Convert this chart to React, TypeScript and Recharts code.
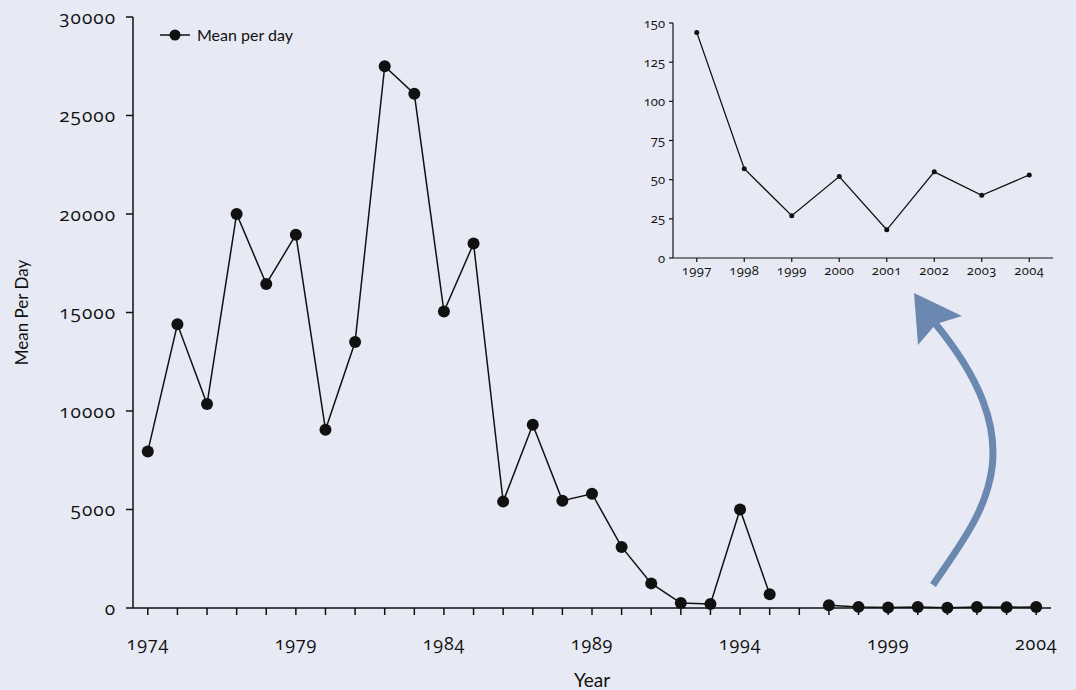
import React from "react";
import { LineChart, Line, XAxis, YAxis, Legend } from "recharts";

// main series, 1974–2004 (1996 has no value)
const years = [
  1974, 1975, 1976, 1977, 1978, 1979, 1980, 1981, 1982, 1983, 1984, 1985, 1986, 1987, 1988, 1989,
  1990, 1991, 1992, 1993, 1994, 1995, 1996, 1997, 1998, 1999, 2000, 2001, 2002, 2003, 2004,
];
const meanPerDay: (number | null)[] = [
  7950, 14400, 10350, 20000, 16450, 18950, 9050, 13500, 27500, 26100, 15050, 18500, 5400, 9300, 5450,
  5800, 3100, 1250, 250, 200, 5000, 700, null, 144, 57, 27, 52, 18, 55, 40, 53,
];
const yTicks = [0, 5000, 10000, 15000, 20000, 25000, 30000];
const xLabelYears = [1974, 1979, 1984, 1989, 1994, 1999, 2004];

// inset, 1997–2004
const insetYears = [1997, 1998, 1999, 2000, 2001, 2002, 2003, 2004];
const insetValues = [144, 57, 27, 52, 18, 55, 40, 53];
const insetYTicks = [0, 25, 50, 75, 100, 125, 150];

const mainData = years.map((year, i) => ({ year, value: meanPerDay[i] }));
const insetData = insetYears.map((year, i) => ({ year, value: insetValues[i] }));

const BG = "#E7EAF4";
const INK = "#111";
const numFont = '"Open Sans", sans-serif';
const textFont = 'Lato, "Open Sans", sans-serif';
const numStyle = { fontVariantNumeric: "oldstyle-nums", fontFeatureSettings: '"onum"' };

function LegendContent() {
  return (
    <svg width={160} height={22} style={{ overflow: "visible", display: "block" }}>
      <line x1={0} y1={11} x2={30} y2={11} stroke={INK} strokeWidth={1.5} />
      <circle cx={15} cy={11} r={5.5} fill={INK} />
      <text x={37} y={11} dy="0.35em" fontSize={16} fontFamily={textFont} fill={INK}>
        Mean per day
      </text>
    </svg>
  );
}

export default function App() {
  return (
    <div
      style={{
        position: "absolute",
        left: 0,
        top: 0,
        width: 1076,
        height: 690,
        background: BG,
        overflow: "hidden",
      }}
    >
      <LineChart
        width={1076}
        height={690}
        data={mainData}
        margin={{ top: 17, right: 25, bottom: 0, left: 10 }}
      >
        <XAxis
          dataKey="year"
          type="number"
          domain={[1973.5, 2004.5]}
          ticks={years}
          interval={0}
          tickFormatter={(v: number) => (xLabelYears.includes(v) ? String(v) : "")}
          height={82}
          tickSize={7}
          tickMargin={22}
          stroke={INK}
          strokeWidth={1.5}
          tick={{ fontSize: 18, fill: INK, fontFamily: numFont, letterSpacing: 0.8, style: numStyle }}
          label={{
            value: "Year",
            position: "insideBottom",
            offset: 3,
            style: { fontSize: 19, fill: INK, fontFamily: textFont },
          }}
        />
        <YAxis
          type="number"
          domain={[0, 30000]}
          ticks={yTicks}
          width={123}
          tickSize={7}
          tickMargin={10}
          stroke={INK}
          strokeWidth={1.5}
          tick={{ fontSize: 19, fill: INK, fontFamily: numFont, letterSpacing: 1, style: numStyle }}
          label={{
            value: "Mean Per Day",
            angle: -90,
            position: "insideLeft",
            offset: 12,
            style: { fontSize: 17, fill: INK, fontFamily: textFont, textAnchor: "middle" },
          }}
        />
        <Legend
          layout="horizontal"
          verticalAlign="middle"
          align="center"
          content={<LegendContent />}
          wrapperStyle={{ left: 160, top: 24, width: 160, height: 22 }}
        />
        <Line
          dataKey="value"
          name="Mean per day"
          stroke={INK}
          strokeWidth={1.5}
          dot={{ r: 6, fill: INK, stroke: INK, strokeWidth: 0 }}
          activeDot={false}
          isAnimationActive={false}
        />
      </LineChart>

      <div style={{ position: "absolute", left: 620, top: 0 }}>
        <LineChart
          width={456}
          height={300}
          data={insetData}
          margin={{ top: 23, right: 23, bottom: 12, left: 13 }}
        >
          <XAxis
            dataKey="year"
            type="number"
            domain={[1996.5, 2004.5]}
            ticks={insetYears}
            interval={0}
            height={30}
            tickSize={4}
            tickMargin={4}
            stroke={INK}
            strokeWidth={1.2}
            tick={{ fontSize: 13, fill: INK, fontFamily: numFont, letterSpacing: 0.4, style: numStyle }}
          />
          <YAxis
            type="number"
            domain={[0, 150]}
            ticks={insetYTicks}
            width={40}
            tickSize={4}
            tickMargin={4}
            stroke={INK}
            strokeWidth={1.2}
            tick={{ fontSize: 13, fill: INK, fontFamily: numFont, style: numStyle }}
          />
          <Line
            dataKey="value"
            stroke={INK}
            strokeWidth={1.3}
            dot={{ r: 2.5, fill: INK, stroke: INK, strokeWidth: 0 }}
            activeDot={false}
            isAnimationActive={false}
          />
        </LineChart>
      </div>

      <svg
        width={1076}
        height={690}
        style={{ position: "absolute", left: 0, top: 0, pointerEvents: "none" }}
      >
        <path
          d="M 933 585 C 980 515, 1040 450, 934 322"
          fill="none"
          stroke="#6A88B0"
          strokeWidth={7}
        />
        <polygon points="914,293 962,316 936,324 918,345" fill="#6A88B0" />
      </svg>
    </div>
  );
}
